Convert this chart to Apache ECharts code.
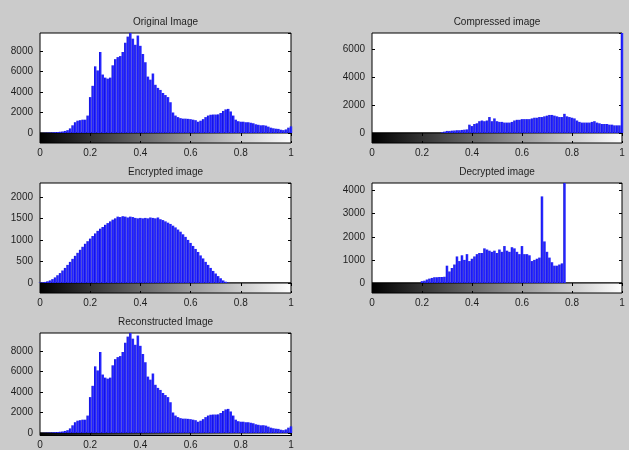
<!DOCTYPE html>
<html><head><meta charset="utf-8">
<script src="https://cdn.jsdelivr.net/npm/echarts@6.0.0/dist/echarts.min.js"></script>
<style>html,body{margin:0;padding:0;background:#cbcbcb}#c{width:629px;height:450px}</style>
</head><body><div id="c"></div>
<script>
// gray-level bin centres (0 .. 1 in steps of 0.01)
const grayLevels = Array.from({length: 101}, (_, i) => i / 100);
const xTickLabels = [0, 0.2, 0.4, 0.6, 0.8, 1];

const originalCounts = [
  0,10,20,30,40,60,80,100,120,150,
  200,280,450,750,1050,1200,1250,1300,1300,1700,
  3500,4600,6500,6100,7900,5700,5400,5300,5400,6600,
  7200,7400,7500,7900,8800,9400,9750,9200,8600,9500,
  8500,7700,6900,5500,5200,5800,4700,4400,4200,3900,
  3700,3500,3000,2000,1700,1550,1450,1400,1400,1380,
  1350,1300,1250,1100,1200,1350,1550,1700,1780,1800,
  1800,1820,1950,2150,2300,2350,2100,1700,1300,1150,
  1100,1100,1050,1050,1000,950,850,800,750,760,
  720,620,520,460,420,400,320,280,350,520,
  650];

const compressedCounts = [
  0,0,0,0,0,0,0,0,0,0,
  0,0,0,0,0,0,0,0,0,0,
  0,0,0,0,0,0,0,0,50,100,
  150,150,170,180,200,200,220,240,260,600,
  500,650,700,850,900,850,900,1150,850,1050,
  850,800,800,750,750,750,800,900,950,950,
  1000,1000,1000,1000,1050,1100,1100,1150,1150,1200,
  1250,1300,1300,1250,1200,1150,1150,1380,1200,1150,
  1100,1050,900,800,750,750,750,750,800,850,
  750,700,650,650,650,600,600,550,550,550,
  7200];

const encryptedCounts = [
  10,15,25,40,60,90,130,180,230,290,
  350,420,490,560,630,700,770,840,910,970,
  1030,1090,1150,1210,1260,1300,1350,1390,1430,1470,
  1500,1540,1530,1550,1540,1520,1540,1530,1510,1500,
  1510,1500,1510,1500,1520,1510,1500,1520,1480,1460,
  1430,1400,1370,1330,1290,1240,1190,1130,1070,1000,
  930,860,790,720,640,570,490,420,350,280,
  220,160,110,60,30,10,0,0,0,0,
  0,0,0,0,0,0,0,0,0,0,
  0,0,0,0,0,0,0,0,0,0,
  0];

const decryptedCounts = [
  0,0,0,0,0,0,0,0,0,0,
  0,0,0,0,0,0,0,0,0,0,
  80,100,150,190,220,250,250,260,260,270,
  750,500,650,800,1150,950,1200,1000,1250,950,
  1050,1150,1250,1300,1300,1500,1450,1400,1350,1400,
  1300,1450,1350,1600,1400,1350,1550,1500,1350,1250,
  1600,1250,1250,1200,950,1000,1050,1100,3750,1800,
  1350,1100,900,750,750,800,850,4330,0,0,
  0,0,0,0,0,0,0,0,0,0,
  0,0,0,0,0,0,0,0,0,0,
  0];

const reconstructedCounts = [
  0,10,20,30,40,60,80,100,120,150,
  200,280,450,750,1050,1200,1250,1300,1300,1700,
  3500,4600,6500,6100,7900,5700,5400,5300,5400,6600,
  7200,7400,7500,7900,8800,9400,9750,9200,8600,9500,
  8500,7700,6900,5500,5200,5800,4700,4400,4200,3900,
  3700,3500,3000,2000,1700,1550,1450,1400,1400,1380,
  1350,1300,1250,1100,1200,1350,1550,1700,1780,1800,
  1800,1820,1950,2150,2300,2350,2100,1700,1300,1150,
  1100,1100,1050,1050,1000,950,850,800,750,760,
  720,620,520,460,420,400,320,280,350,520,
  650];

const panelTitles = ['Original Image', 'Compressed image', 'Encrypted image', 'Decrypted image', 'Reconstructed Image'];
const panelCounts = [originalCounts, compressedCounts, encryptedCounts, decryptedCounts, reconstructedCounts];
const yMaxes = [9750, 7200, 2320, 4330, 9750];
const yTickSteps = [2000, 2000, 500, 1000, 2000];

const layouts = [
  {left: 40, top: 33, width: 251},
  {left: 372, top: 33, width: 250},
  {left: 40, top: 183, width: 251},
  {left: 372, top: 183, width: 250},
  {left: 40, top: 333, width: 251}
];
const PLOT_H = 100, BAR_H = 10;
const FONT = "'Liberation Sans', Arial, sans-serif";
const TXT = '#1e1e1e';

const chart = echarts.init(document.getElementById('c'), null, {renderer: 'canvas'});
const grid = [], xAxis = [], yAxis = [], series = [], title = [];

const barFill = new echarts.graphic.LinearGradient(0, 0, 1, 0, [
  {offset: 0, color: '#0808b8'}, {offset: 0.35, color: '#1e1eff'}, {offset: 1, color: '#3434ff'}]);

panelTitles.forEach((name, k) => {
  const L = layouts[k];
  const gMain = grid.length;
  grid.push({left: L.left, top: L.top, width: L.width, height: PLOT_H, show: true,
    backgroundColor: '#ffffff', borderColor: '#000', borderWidth: 1});
  const gBar = grid.length;
  grid.push({left: L.left, top: L.top + PLOT_H, width: L.width, height: BAR_H, show: true,
    backgroundColor: new echarts.graphic.LinearGradient(0, 0, 1, 0, [
      {offset: 0, color: '#000000'}, {offset: 1, color: '#ffffff'}]),
    borderColor: '#000', borderWidth: 1});

  const xMain = xAxis.length;
  xAxis.push({type: 'value', gridIndex: gMain, min: 0, max: 1, interval: 0.2, position: 'top',
    axisLine: {show: false}, axisTick: {show: true, inside: true, length: 3, lineStyle: {color: '#000'}},
    axisLabel: {show: false}, splitLine: {show: false}});
  xAxis.push({type: 'value', gridIndex: gBar, min: 0, max: 1, interval: 0.2, position: 'bottom',
    axisLine: {show: false}, axisTick: {show: true, inside: true, length: 2, lineStyle: {color: '#000'}},
    axisLabel: {show: true, margin: 5, fontSize: 10, color: TXT, fontFamily: FONT,
      formatter: v => xTickLabels.find(t => Math.abs(t - v) < 1e-6) !== undefined ? String(Math.round(v * 10) / 10) : ''},
    splitLine: {show: false}});

  const yMain = yAxis.length;
  yAxis.push({type: 'value', gridIndex: gMain, min: 0, max: yMaxes[k], interval: yTickSteps[k], position: 'left',
    axisLine: {show: false}, axisTick: {show: true, inside: true, length: 3, lineStyle: {color: '#000'}},
    axisLabel: {show: true, margin: 7, fontSize: 10, color: TXT, fontFamily: FONT, showMaxLabel: false,
      formatter: v => (v % yTickSteps[k] === 0 ? String(v) : '')},
    splitLine: {show: false}});
  yAxis.push({type: 'value', gridIndex: gMain, min: 0, max: yMaxes[k], interval: yTickSteps[k], position: 'right',
    axisLine: {show: false}, axisTick: {show: true, inside: true, length: 3, lineStyle: {color: '#000'}},
    axisLabel: {show: false}, splitLine: {show: false}});
  yAxis.push({type: 'value', gridIndex: gBar, min: 0, max: 1, show: false});

  series.push({type: 'bar', xAxisIndex: xMain, yAxisIndex: yMain, silent: true, clip: true,
    barWidth: 2.5, itemStyle: {color: barFill},
    data: grayLevels.map((g, i) => [g, panelCounts[k][i]])});

  title.push({text: name, left: L.left + L.width / 2, top: L.top - 16, textAlign: 'center', padding: 0,
    textStyle: {fontSize: 10, fontWeight: 'normal', color: TXT, fontFamily: FONT}});
});

chart.setOption({backgroundColor: '#cbcbcb', animation: false, title, grid, xAxis, yAxis, series});
</script>
</body></html>
